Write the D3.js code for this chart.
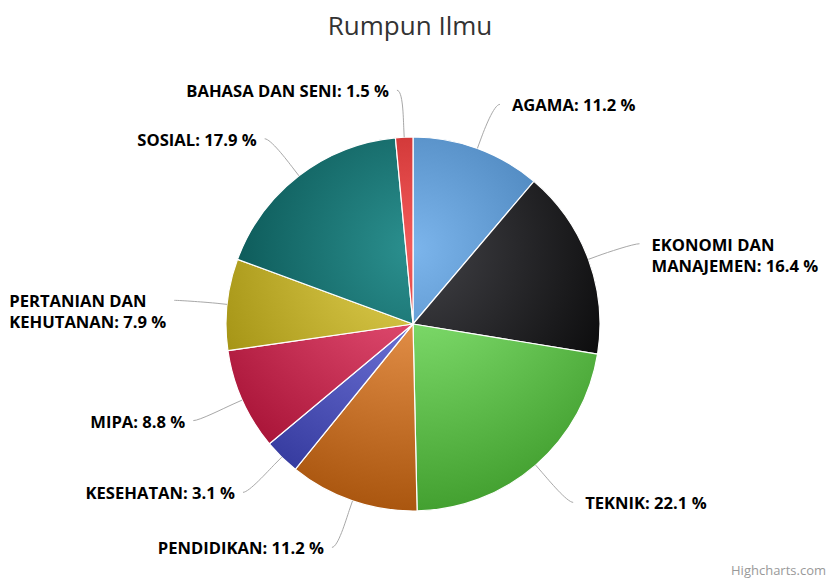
<!DOCTYPE html>
<html lang="id">
<head>
<meta charset="UTF-8">
<title>Rumpun Ilmu</title>
<style>
    body {
        margin: 0;
        background: #fff;
        font-family: "Open Sans", Arial, sans-serif;
    }
    .title {
        font-size: 26px;
        fill: #333;
    }
    .label {
        font-size: 16.6px;
        font-weight: bold;
        fill: #000;
    }
    .connector {
        fill: none;
        stroke: #a8a8a8;
        stroke-width: 1;
    }
    .credits {
        font-size: 13px;
        fill: #999;
    }
</style>
</head>
<body>
<div id="chart"></div>
<script src="https://d3js.org/d3.v7.min.js"></script>
<script>
// Data
const categories = ["AGAMA", "EKONOMI DAN MANAJEMEN", "TEKNIK", "PENDIDIKAN", "KESEHATAN",
    "MIPA", "PERTANIAN DAN KEHUTANAN", "SOSIAL", "BAHASA DAN SENI"];
const values = [11.2, 16.4, 22.1, 11.2, 3.1, 8.8, 7.9, 17.9, 1.5];
const colors = ["#7cb5ec", "#434348", "#90ed7d", "#f7a35c", "#8085e9",
    "#f15c80", "#e4d354", "#2b908f", "#f45b5b"];

const width = 829, height = 579;
const cx = 413, cy = 324, radius = 187;
const labelRadius = radius + 48;

const svg = d3.select("#chart")
    .append("svg")
    .attr("width", width)
    .attr("height", height);

// Highcharts-like brighten(-0.3): subtract from each channel
function darken(hex) {
    const c = d3.rgb(hex);
    const k = Math.round(255 * 0.3);
    return d3.rgb(Math.max(0, c.r - k), Math.max(0, c.g - k), Math.max(0, c.b - k)).formatHex();
}

// Radial gradients relative to the pie circle (in the pie group's coordinates)
const defs = svg.append("defs");
colors.forEach((col, i) => {
    const g = defs.append("radialGradient")
        .attr("id", "grad" + i)
        .attr("gradientUnits", "userSpaceOnUse")
        .attr("cx", 0)
        .attr("cy", -0.2 * 2 * radius)
        .attr("r", 0.7 * 2 * radius);
    g.append("stop").attr("offset", 0).attr("stop-color", col);
    g.append("stop").attr("offset", 1).attr("stop-color", darken(col));
});

// Title
svg.append("text")
    .attr("class", "title")
    .attr("x", 410)
    .attr("y", 35)
    .attr("text-anchor", "middle")
    .text("Rumpun Ilmu");

const pie = d3.pie().sort(null).value(d => d);
const arcs = pie(values);
const arc = d3.arc().innerRadius(0).outerRadius(radius);

const plot = svg.append("g").attr("transform", `translate(${cx},${cy})`);

plot.selectAll("path.slice")
    .data(arcs)
    .enter()
    .append("path")
    .attr("class", "slice")
    .attr("d", arc)
    .attr("fill", (d, i) => `url(#grad${i})`)
    .attr("stroke", "#fff")
    .attr("stroke-width", 1.2)
    .attr("stroke-linejoin", "round");

// Data labels with soft connectors
const lineHeight = 21;
arcs.forEach((d, i) => {
    const a = (d.startAngle + d.endAngle) / 2;
    const s = Math.sin(a), c = Math.cos(a);
    const right = s > 0;
    const sgn = right ? 1 : -1;
    const lx = cx + labelRadius * s;
    const ly = cy - labelRadius * c;
    const textX = lx + sgn * (right ? 18 : 13);

    const label = svg.append("text")
        .attr("class", "label")
        .attr("y", ly + 8);

    // greedy word wrap within the space left to the edge (keep "x %" together)
    const avail = right ? width - textX - 4 : textX - 3;
    const words = (categories[i] + ": " + values[i] + "\u00a0%").split(" ");
    let lines = [];
    let cur = [];
    const probe = label.append("tspan");
    words.forEach(w => {
        const test = cur.concat([w]).join(" ");
        probe.text(test);
        if (probe.node().getComputedTextLength() > avail && cur.length) {
            lines.push(cur.join(" "));
            cur = [w];
        } else {
            cur.push(w);
        }
    });
    lines.push(cur.join(" "));
    probe.remove();

    const spans = lines.map((t, j) => label.append("tspan")
        .attr("dy", j === 0 ? 0 : lineHeight)
        .text(t));
    const blockW = d3.max(spans, sp => sp.node().getComputedTextLength());
    const startX = right ? textX : textX - blockW;
    spans.forEach(sp => sp.attr("x", startX));

    // connector
    const ex = cx + radius * s, ey = cy - radius * c;
    const bx = cx + (radius + 10) * s, by = cy - (radius + 10) * c;
    const c1x = cx + (radius + 20) * s, c1y = cy - (radius + 20) * c;
    const endX = textX - sgn * (right ? 12 : 8);
    const endY = ly + 1;
    svg.insert("path", "text.label")
        .attr("class", "connector")
        .attr("d", `M${endX},${endY} C${endX - sgn * 6},${endY} ${c1x},${c1y} ${bx},${by} L${ex},${ey}`);
});

// Credits
svg.append("text")
    .attr("class", "credits")
    .attr("x", 826)
    .attr("y", 575)
    .attr("text-anchor", "end")
    .text("Highcharts.com");
</script>
</body>
</html>
